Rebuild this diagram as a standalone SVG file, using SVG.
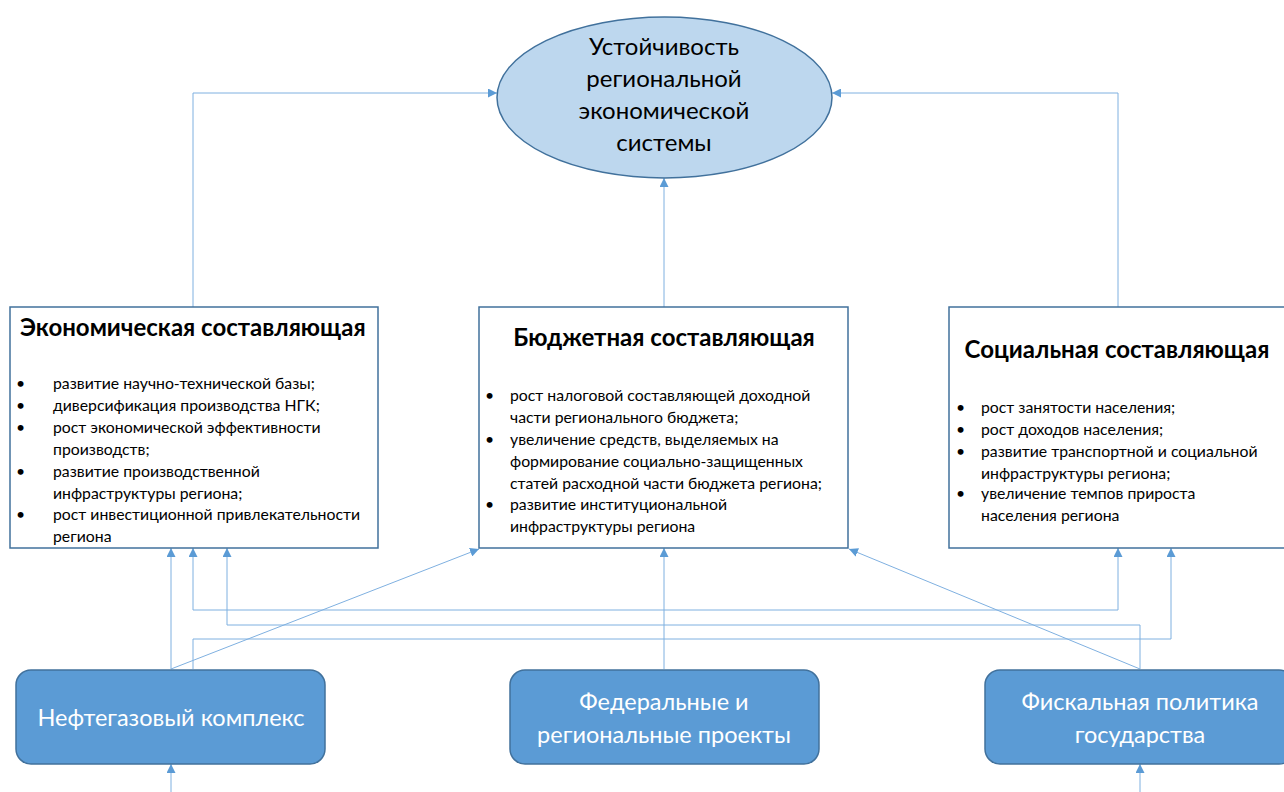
<svg xmlns="http://www.w3.org/2000/svg" width="1284" height="792" viewBox="0 0 1284 792">
<style>
.box{fill:#ffffff;stroke:#41719C;stroke-width:1.5}
.ell{fill:#BDD7EE;stroke:#41719C;stroke-width:1.5}
.rbox{fill:#5B9BD5;stroke:#41719C;stroke-width:1.5}
.ln{fill:none;stroke:#7FB0E0;stroke-width:1}
.title{font-family:Lato,"Liberation Sans",sans-serif;font-weight:bold;font-size:24px;fill:#000}
.bul{font-family:Lato,"Liberation Sans",sans-serif;font-size:15.8px;fill:#000}
.etxt{font-family:Lato,"Liberation Sans",sans-serif;font-size:24px;fill:#000;text-anchor:middle}
.wtxt{font-family:Lato,"Liberation Sans",sans-serif;font-size:23.5px;fill:#fff;text-anchor:middle}
</style>
<defs>
<marker id="ah" viewBox="0 0 10 10" refX="10" refY="5" markerWidth="9" markerHeight="9" markerUnits="userSpaceOnUse" orient="auto-start-reverse">
<path d="M0,0 L10,5 L0,10 Z" fill="#5B9BD5"/>
</marker>
</defs>
<rect width="1284" height="792" fill="#ffffff"/>

<g id="connectors">
<path class="ln" d="M193,307 L193,93 L497,93" marker-end="url(#ah)"/>
<path class="ln" d="M1118,307 L1118,93 L832,93" marker-end="url(#ah)"/>
<path class="ln" d="M664,307 L664,178" marker-end="url(#ah)"/>
<path class="ln" d="M171,669 L171,548" marker-end="url(#ah)"/>
<path class="ln" d="M193,548 L193,610 L1118,610 L1118,548" marker-start="url(#ah)" marker-end="url(#ah)"/>
<path class="ln" d="M1140,669 L1140,625 L227,625 L227,548" marker-end="url(#ah)"/>
<path class="ln" d="M193,669 L193,639 L1171,639 L1171,548" marker-end="url(#ah)"/>
<path class="ln" d="M171,669 L479,549" marker-end="url(#ah)"/>
<path class="ln" d="M1140,669 L849,549" marker-end="url(#ah)"/>
<path class="ln" d="M664,669 L664,548" marker-end="url(#ah)"/>
<path class="ln" d="M171,792 L171,764" marker-end="url(#ah)"/>
<path class="ln" d="M1140,792 L1140,764" marker-end="url(#ah)"/>
</g>

<g id="node-ustoichivost">
<ellipse class="ell" cx="664.5" cy="97.5" rx="167.5" ry="80.5"/>
<text class="etxt" x="664" y="55">Устойчивость</text>
<text class="etxt" x="664" y="87">региональной</text>
<text class="etxt" x="664" y="119">экономической</text>
<text class="etxt" x="664" y="151">системы</text>
</g>

<g id="node-economic">
<rect class="box" x="10" y="307" width="368" height="241"/>
<text class="title" x="20" y="336">Экономическая составляющая</text>
<g class="bul">
<text x="16" y="389">•</text><text x="53" y="389">развитие научно-технической базы;</text>
<text x="16" y="411">•</text><text x="53" y="411">диверсификация производства НГК;</text>
<text x="16" y="433">•</text><text x="53" y="433">рост экономической эффективности</text>
<text x="53" y="455">производств;</text>
<text x="16" y="477">•</text><text x="53" y="477">развитие производственной</text>
<text x="53" y="499">инфраструктуры региона;</text>
<text x="16" y="520">•</text><text x="53" y="520">рост инвестиционной привлекательности</text>
<text x="53" y="542">региона</text>
</g>
</g>

<g id="node-budget">
<rect class="box" x="479" y="307" width="369" height="241"/>
<text class="title" x="664" y="346" text-anchor="middle">Бюджетная составляющая</text>
<g class="bul">
<text x="485" y="401">•</text><text x="510" y="401">рост налоговой составляющей доходной</text>
<text x="510" y="423">части регионального бюджета;</text>
<text x="485" y="445">•</text><text x="510" y="445">увеличение средств, выделяемых на</text>
<text x="510" y="467">формирование социально-защищенных</text>
<text x="510" y="489">статей расходной части бюджета региона;</text>
<text x="485" y="510">•</text><text x="510" y="510">развитие институциональной</text>
<text x="510" y="532">инфраструктуры региона</text>
</g>
</g>

<g id="node-social">
<rect class="box" x="949" y="307" width="340" height="241"/>
<text class="title" x="1117" y="358" text-anchor="middle">Социальная составляющая</text>
<g class="bul">
<text x="956" y="413">•</text><text x="981" y="413">рост занятости населения;</text>
<text x="956" y="435">•</text><text x="981" y="435">рост доходов населения;</text>
<text x="956" y="457">•</text><text x="981" y="457">развитие транспортной и социальной</text>
<text x="981" y="479">инфраструктуры региона;</text>
<text x="956" y="499">•</text><text x="981" y="499">увеличение темпов прироста</text>
<text x="981" y="521">населения региона</text>
</g>
</g>

<g id="node-neftegaz">
<rect class="rbox" x="16" y="670" width="309" height="94" rx="15"/>
<text class="wtxt" x="171" y="726">Нефтегазовый комплекс</text>
</g>

<g id="node-federal">
<rect class="rbox" x="510" y="670" width="309" height="94" rx="15"/>
<text class="wtxt" x="664" y="710">Федеральные и</text>
<text class="wtxt" x="664" y="743">региональные проекты</text>
</g>

<g id="node-fiscal">
<rect class="rbox" x="985" y="670" width="309" height="94" rx="15"/>
<text class="wtxt" x="1140" y="710">Фискальная политика</text>
<text class="wtxt" x="1140" y="743">государства</text>
</g>
</svg>
